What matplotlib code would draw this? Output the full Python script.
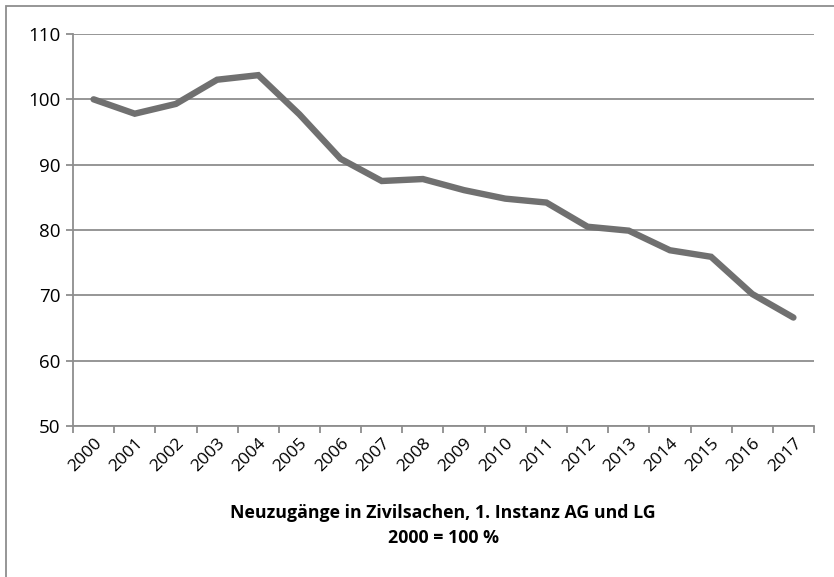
import matplotlib
matplotlib.use("Agg")
import matplotlib.pyplot as plt
from matplotlib.patches import Rectangle
import numpy as np

years = ["2000", "2001", "2002", "2003", "2004", "2005", "2006", "2007", "2008",
         "2009", "2010", "2011", "2012", "2013", "2014", "2015", "2016", "2017"]
index_values = [100.0, 97.8, 99.3, 103.0, 103.7, 97.7, 90.9, 87.5, 87.8,
                86.1, 84.8, 84.2, 80.5, 79.9, 76.9, 75.9, 70.2, 66.6]
title_lines = ["Neuzugänge in Zivilsachen, 1. Instanz AG und LG", "2000 = 100 %"]

plt.rcParams['font.family'] = ['Open Sans', 'DejaVu Sans']

fig = plt.figure(figsize=(8.34, 5.77), dpi=100)
W, H = 834, 577
ax = fig.add_axes([73 / W, 1 - 426 / H, (814 - 73) / W, (426 - 34) / H])

grid_col = '#8e8e8e'
x = np.arange(len(years))
ax.plot(x, index_values, color='#707070', linewidth=4.6, solid_capstyle='round',
        solid_joinstyle='miter', zorder=3)

ax.set_xlim(-0.5, len(years) - 0.5)
ax.set_ylim(50, 110)
ax.set_yticks(np.arange(50, 111, 10))
ax.yaxis.grid(True, color=grid_col, linewidth=1.3)
ax.set_axisbelow(True)

ax.set_xticks(np.arange(-0.5, len(years), 1.0))
ax.set_xticklabels([])
ax.set_xticks(x, minor=True)
ax.set_xticklabels(years, minor=True, rotation=45, ha='right', va='top',
                   rotation_mode='anchor', fontsize=12.5)
ax.tick_params(axis='x', which='minor', length=0, pad=7)
ax.tick_params(axis='x', which='major', length=5, width=1.3, color=grid_col)
ax.tick_params(axis='y', length=5, width=1.3, color=grid_col, labelsize=13.5, pad=4)

for side in ['top', 'right']:
    ax.spines[side].set_visible(False)
for side in ['left', 'bottom']:
    ax.spines[side].set_color(grid_col)
    ax.spines[side].set_linewidth(1.3)

fig.text(443 / W, 1 - 513 / H, title_lines[0], ha='center', va='center',
         fontsize=12.8, fontweight='bold')
fig.text(443 / W, 1 - 538 / H, title_lines[1], ha='center', va='center',
         fontsize=12.8, fontweight='bold')

fig.patches.append(Rectangle((6 / W, -0.05), (W - 5) / W, 1 - 6 / H + 0.05,
                             transform=fig.transFigure, fill=False,
                             edgecolor='#8e8e8e', linewidth=1.3))

fig.savefig('out.png', dpi=100)
